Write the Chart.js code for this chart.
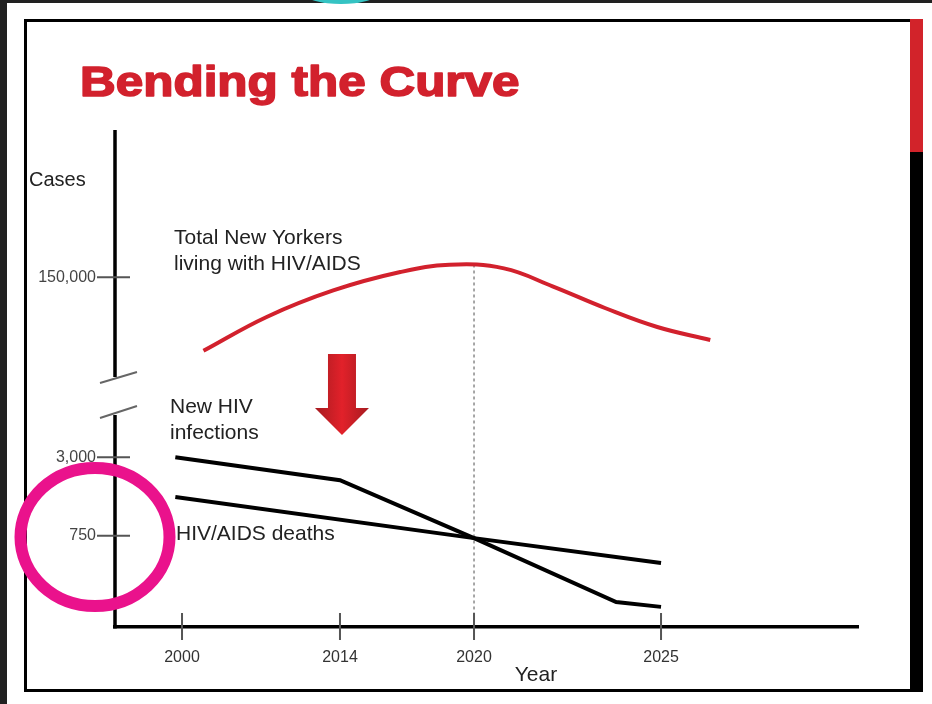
<!DOCTYPE html>
<html lang="en">
<head>
<meta charset="UTF-8" />
<title>Bending the Curve</title>
<script src="https://cdn.jsdelivr.net/npm/chart.js"></script>
<style>
  html, body { margin: 0; padding: 0; }
  body { width: 932px; height: 704px; background: #212121; position: relative; overflow: hidden; }
  .sheet { position: absolute; left: 7px; top: 3px; right: 0; bottom: 0; background: #fff; }
  .tab { position: absolute; left: 305px; top: -16px; width: 72px; height: 20px; border-radius: 50%; background: #35c3c3; }
  .frame { position: absolute; left: 24px; top: 19px; width: 886px; height: 673px; box-sizing: border-box;
           border: 3.5px solid #000; border-right: none; }
  .bar-red { position: absolute; left: 910px; top: 19px; width: 13px; height: 133px; background: #d2232a; }
  .bar-black { position: absolute; left: 910px; top: 152px; width: 13px; height: 540px; background: #000; }
  canvas { position: absolute; left: 0; top: 0; }
</style>
</head>
<body>
<div class="sheet"></div>
<div class="tab"></div>
<div class="frame"></div>
<div class="bar-red"></div>
<div class="bar-black"></div>
<canvas id="curve" width="932" height="704"></canvas>

<script>
// values (schematic)
const yearTicks = [2000, 2014, 2020, 2025];

const livingYears = [2001.9, 2007.5, 2013.4, 2016.7, 2018.9, 2020.8, 2022.1, 2023.5, 2024.9, 2026.25];
const livingCases = [100000, 123000, 141000, 153500, 158500, 156000, 143800, 129100, 116200, 107400];

const infectionYears = [1999.4, 2014, 2020, 2023.8, 2025];
const infectionCases = [3000, 2000, 720, 233, 214];

const deathYears = [1999.4, 2020, 2025];
const deathCases = [1490, 720, 464];

const topTicks = [150000];
const lowTicks = [3000, 750];

const RED = "#d2212d";
const FONT = '"Liberation Sans", Arial, sans-serif';

// the year axis of the slide is not to scale: piecewise linear between knots
class SegmentScale extends Chart.LinearScale {
  static id = "segment";
  static defaults = {};
  static knots = [[1994, 0], [2000, 0.0902], [2014, 0.3028], [2020, 0.4832], [2025, 0.7349], [2030, 1]];

  toFrac(v) {
    const k = SegmentScale.knots;
    let i = 0;
    while (i < k.length - 2 && v > k[i + 1][0]) i++;
    const [v0, f0] = k[i], [v1, f1] = k[i + 1];
    return f0 + (v - v0) / (v1 - v0) * (f1 - f0);
  }
  fromFrac(f) {
    const k = SegmentScale.knots;
    let i = 0;
    while (i < k.length - 2 && f > k[i + 1][1]) i++;
    const [v0, f0] = k[i], [v1, f1] = k[i + 1];
    return v0 + (f - f0) / (f1 - f0) * (v1 - v0);
  }
  getPixelForValue(v) {
    if (v === null || v === undefined) return NaN;
    return this.getPixelForDecimal(this.toFrac(v));
  }
  getValueForPixel(p) {
    return this.fromFrac(this.getDecimalForPixel(p));
  }
}
Chart.register(SegmentScale);

const pts = (xs, ys) => xs.map((x, i) => ({ x: x, y: ys[i] }));

const decor = {
  id: "decor",
  beforeDatasetsDraw(chart) {
    const { ctx, chartArea: a, scales: { x } } = chart;
    const px = x.getPixelForValue(2020);
    const hit = chart.getDatasetMeta(0).dataset.interpolate({ x: px }, "x");
    ctx.save();
    ctx.strokeStyle = "#8a8a8a";
    ctx.lineWidth = 1.5;
    ctx.setLineDash([3, 3]);
    ctx.beginPath();
    ctx.moveTo(px, hit ? hit.y : a.top);
    ctx.lineTo(px, a.bottom);
    ctx.stroke();
    ctx.restore();
  },
  afterDatasetsDraw(chart) {
    const { ctx, chartArea: a, scales: { x, yTop, yLow } } = chart;
    ctx.save();

    // y axis with a break
    const joint = yTop.bottom;
    ctx.strokeStyle = "#000";
    ctx.lineWidth = 3.5;
    ctx.beginPath();
    ctx.moveTo(a.left, a.top);
    ctx.lineTo(a.left, joint - 18);
    ctx.moveTo(a.left, joint + 20);
    ctx.lineTo(a.left, a.bottom + 1.5);
    ctx.stroke();

    ctx.strokeStyle = "#666";
    ctx.lineWidth = 2;
    ctx.beginPath();
    ctx.moveTo(a.left - 15, joint - 12);
    ctx.lineTo(a.left + 22, joint - 23);
    ctx.moveTo(a.left - 15, joint + 23);
    ctx.lineTo(a.left + 22, joint + 11);
    ctx.stroke();

    // tick marks crossing the axes
    ctx.strokeStyle = "#555";
    ctx.lineWidth = 2;
    ctx.beginPath();
    [[yTop, topTicks], [yLow, lowTicks]].forEach(([s, list]) => {
      list.forEach(v => {
        const py = s.getPixelForValue(v);
        ctx.moveTo(a.left - 18, py);
        ctx.lineTo(a.left + 15, py);
      });
    });
    yearTicks.forEach(v => {
      const px = x.getPixelForValue(v);
      ctx.moveTo(px, a.bottom - 14);
      ctx.lineTo(px, a.bottom + 13);
    });
    ctx.stroke();

    // red arrow
    const ax = x.getPixelForValue(2014) + 2;
    const grad = ctx.createLinearGradient(ax - 27, 0, ax + 27, 0);
    grad.addColorStop(0, "#a61b20");
    grad.addColorStop(0.5, "#e2212a");
    grad.addColorStop(1, "#a61b20");
    ctx.fillStyle = grad;
    ctx.beginPath();
    ctx.moveTo(ax - 14, 354);
    ctx.lineTo(ax + 14, 354);
    ctx.lineTo(ax + 14, 408);
    ctx.lineTo(ax + 27, 408);
    ctx.lineTo(ax, 435);
    ctx.lineTo(ax - 27, 408);
    ctx.lineTo(ax - 14, 408);
    ctx.closePath();
    ctx.fill();

    // title, heavy and a little wide like the slide
    ctx.save();
    ctx.translate(80, 96);
    ctx.scale(1.15, 1);
    ctx.fillStyle = RED;
    ctx.strokeStyle = RED;
    ctx.lineWidth = 1.6;
    ctx.lineJoin = "round";
    ctx.font = "bold 43px " + FONT;
    ctx.textBaseline = "alphabetic";
    ctx.textAlign = "left";
    ctx.fillText("Bending the Curve", 0, 0);
    ctx.strokeText("Bending the Curve", 0, 0);
    ctx.restore();

    ctx.fillStyle = "#222";
    ctx.font = "21px " + FONT;
    ctx.textBaseline = "middle";
    ctx.textAlign = "left";
    ctx.fillText("Total New Yorkers", 174, 238);
    ctx.fillText("living with HIV/AIDS", 174, 264);
    ctx.fillText("New HIV", 170, 407);
    ctx.fillText("infections", 170, 433);
    ctx.fillText("HIV/AIDS deaths", 176, 534);
    ctx.font = "20px " + FONT;
    ctx.fillText("Cases", 29, 180);
    ctx.textAlign = "center";
    ctx.font = "21px " + FONT;
    ctx.fillText("Year", 536, 675);
    ctx.restore();
  },
  afterDraw(chart) {
    const ctx = chart.ctx;
    ctx.save();
    ctx.strokeStyle = "#ea128c";
    ctx.lineWidth = 12;
    ctx.beginPath();
    ctx.ellipse(95, 537, 74.5, 69, 0, 0, Math.PI * 2);
    ctx.stroke();
    ctx.restore();
  }
};

new Chart(document.getElementById("curve"), {
  type: "line",
  data: {
    datasets: [
      {
        label: "Total New Yorkers living with HIV/AIDS",
        data: pts(livingYears, livingCases),
        yAxisID: "yTop",
        borderColor: RED,
        borderWidth: 4,
        tension: 0.4,
        pointRadius: 0,
      },
      {
        label: "New HIV infections",
        data: pts(infectionYears, infectionCases),
        yAxisID: "yLow",
        borderColor: "#000",
        borderWidth: 4,
        pointRadius: 0,
      },
      {
        label: "HIV/AIDS deaths",
        data: pts(deathYears, deathCases),
        yAxisID: "yLow",
        borderColor: "#000",
        borderWidth: 4,
        pointRadius: 0,
      },
    ],
  },
  options: {
    responsive: false,
    animation: false,
    layout: { padding: { left: 25, top: 130, right: 74, bottom: 27 } },
    plugins: { legend: { display: false }, tooltip: { enabled: false } },
    scales: {
      x: {
        type: "segment",
        min: 1994,
        max: 2030,
        afterFit: s => { s.height = 50; },
        afterBuildTicks: s => { s.ticks = yearTicks.map(v => ({ value: v })); },
        grid: { display: false, drawTicks: false },
        border: { display: true, color: "#000", width: 3.5 },
        ticks: {
          autoSkip: false,
          maxRotation: 0,
          padding: 21,
          color: "#333",
          font: { family: FONT, size: 16 },
          callback: v => String(v),
        },
      },
      yLow: {
        type: "logarithmic",
        position: "left",
        stack: "cases",
        stackWeight: 232,
        min: 150,
        max: 9000,
        afterFit: s => { s.width = 90; },
        afterBuildTicks: s => { s.ticks = lowTicks.map(v => ({ value: v })); },
        grid: { display: false, drawTicks: false },
        border: { display: false },
        ticks: {
          padding: 19,
          color: "#444",
          font: { family: FONT, size: 16 },
          callback: v => Number(v).toLocaleString("en-US"),
        },
      },
      yTop: {
        type: "linear",
        position: "left",
        stack: "cases",
        stackWeight: 265,
        min: 70000,
        max: 250000,
        afterFit: s => { s.width = 90; },
        afterBuildTicks: s => { s.ticks = topTicks.map(v => ({ value: v })); },
        grid: { display: false, drawTicks: false },
        border: { display: false },
        ticks: {
          padding: 19,
          color: "#444",
          font: { family: FONT, size: 16 },
          callback: v => Number(v).toLocaleString("en-US"),
        },
      },
    },
  },
  plugins: [decor],
});
</script>
</body>
</html>
